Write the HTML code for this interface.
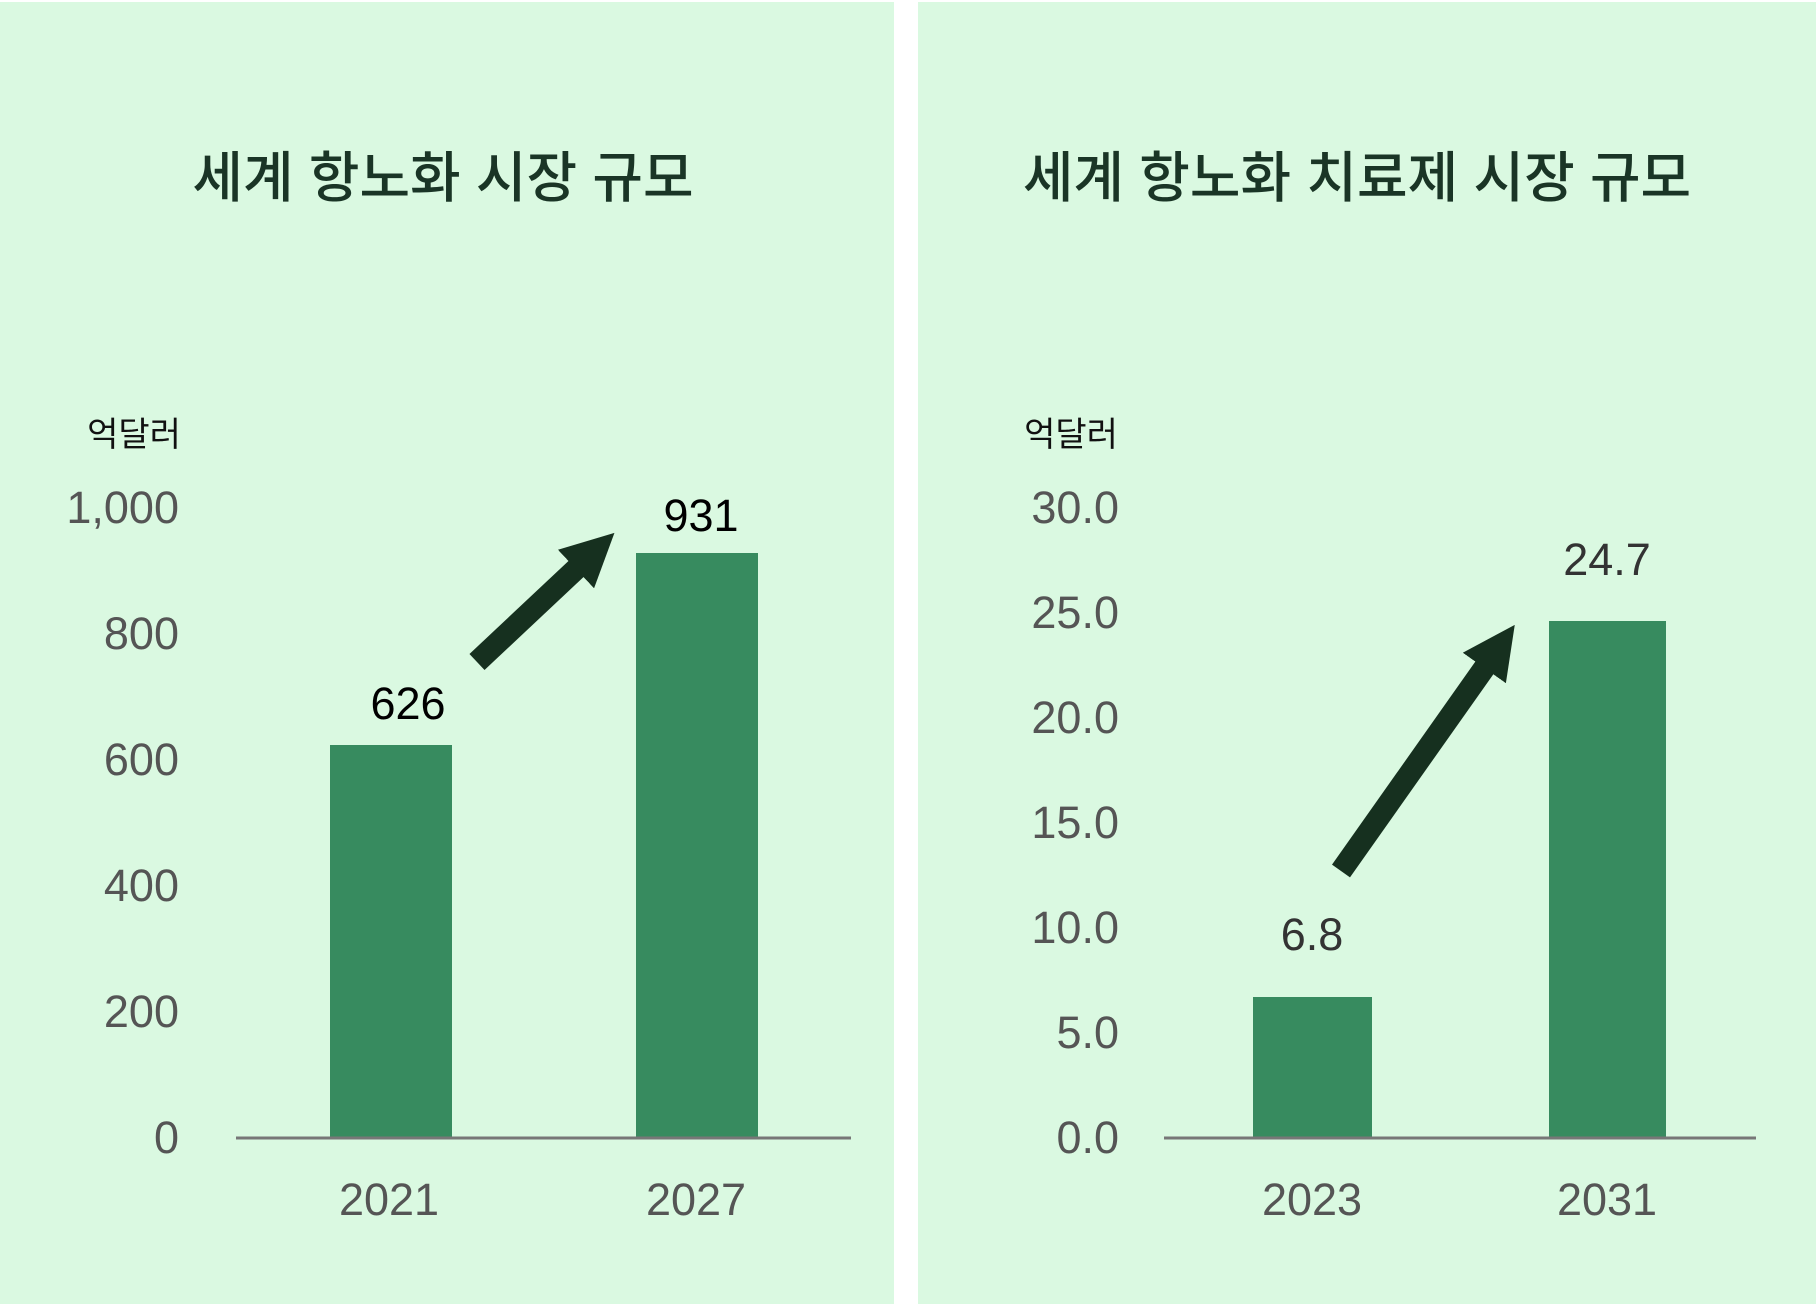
<!DOCTYPE html>
<html><head><meta charset="utf-8"><style>
html,body{margin:0;padding:0;background:#fff;}
svg{display:block;}
text{font-family:"Liberation Sans","Noto Sans CJK KR",sans-serif;}
</style></head><body>
<svg width="1816" height="1304" viewBox="0 0 1816 1304" xmlns="http://www.w3.org/2000/svg">
<rect x="0" y="0" width="1816" height="1304" fill="#fff"/>
<rect x="0" y="2" width="894" height="1302" fill="#daf9e1"/>
<rect x="918" y="2" width="898" height="1302" fill="#daf9e1"/>
<defs><marker id="ah" markerWidth="2.4" markerHeight="2.4" refX="1" refY="1.2" orient="auto" markerUnits="strokeWidth"><path d="M0,0 L2.4,1.2 L0,2.4 z" fill="#16301f"/></marker></defs>
<!-- Left panel -->
<text x="443" y="197" font-size="55" font-weight="500" fill="#1a3526" text-anchor="middle">세계 항노화 시장 규모</text>
<text x="134" y="446" font-size="34" fill="#111" text-anchor="middle">억달러</text>
<g font-size="45" fill="#555" text-anchor="end">
<text x="179" y="523">1,000</text>
<text x="179" y="649">800</text>
<text x="179" y="775">600</text>
<text x="179" y="901">400</text>
<text x="179" y="1027">200</text>
<text x="179" y="1153">0</text>
</g>
<rect x="330" y="745" width="122" height="393" fill="#378b5f"/>
<rect x="636" y="553" width="122" height="585" fill="#378b5f"/>
<line x1="236" y1="1138" x2="851" y2="1138" stroke="#777" stroke-width="3"/>
<text x="408" y="719" font-size="45" fill="#000" text-anchor="middle">626</text>
<text x="701" y="531" font-size="45" fill="#000" text-anchor="middle">931</text>
<text x="389" y="1215" font-size="45" fill="#555" text-anchor="middle">2021</text>
<text x="696" y="1215" font-size="45" fill="#555" text-anchor="middle">2027</text>
<line x1="477" y1="662" x2="592" y2="554" stroke="#16301f" stroke-width="22" marker-end="url(#ah)"/>
<!-- Right panel -->
<text x="1357" y="197" font-size="55" font-weight="500" fill="#1a3526" text-anchor="middle">세계 항노화 치료제 시장 규모</text>
<text x="1071" y="446" font-size="34" fill="#111" text-anchor="middle">억달러</text>
<g font-size="45" fill="#555" text-anchor="end">
<text x="1119" y="523">30.0</text>
<text x="1119" y="628">25.0</text>
<text x="1119" y="733">20.0</text>
<text x="1119" y="838">15.0</text>
<text x="1119" y="943">10.0</text>
<text x="1119" y="1048">5.0</text>
<text x="1119" y="1153">0.0</text>
</g>
<rect x="1253" y="997" width="119" height="141" fill="#378b5f"/>
<rect x="1549" y="621" width="117" height="517" fill="#378b5f"/>
<line x1="1164" y1="1138" x2="1756" y2="1138" stroke="#777" stroke-width="3"/>
<text x="1312" y="950" font-size="45" fill="#333" text-anchor="middle">6.8</text>
<text x="1607" y="575" font-size="45" fill="#333" text-anchor="middle">24.7</text>
<text x="1312" y="1215" font-size="45" fill="#555" text-anchor="middle">2023</text>
<text x="1607" y="1215" font-size="45" fill="#555" text-anchor="middle">2031</text>
<line x1="1341" y1="871" x2="1497" y2="650" stroke="#16301f" stroke-width="22" marker-end="url(#ah)"/>
</svg>
</body></html>
